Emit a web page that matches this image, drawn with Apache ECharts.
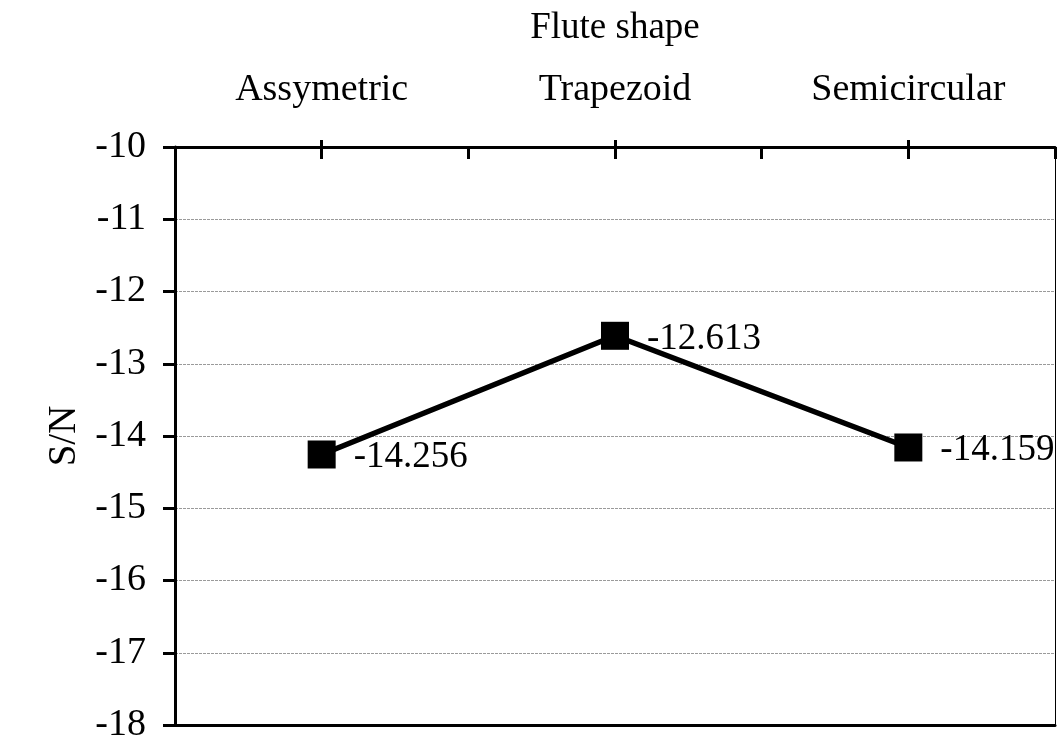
<!DOCTYPE html>
<html>
<head>
<meta charset="utf-8">
<script src="https://cdn.jsdelivr.net/npm/echarts@6/dist/echarts.min.js"></script>
<style>
html,body{margin:0;padding:0;background:#fff;}
#chart{width:1057px;height:746px;}
</style>
</head>
<body>
<div id="chart"></div>
<script>
const categories = ['Assymetric', 'Trapezoid', 'Semicircular'];
const categoryPositions = [1, 3, 5];
const snValues = [-14.256, -12.613, -14.159];
const yTicks = [-18, -17, -16, -15, -14, -13, -12, -11, -10];

const FONT = "'Liberation Serif', 'Times New Roman', serif";
const chart = echarts.init(document.getElementById('chart'));

const points = categoryPositions.map((x, i) => [x, snValues[i]]);

chart.setOption({
  backgroundColor: '#fff',
  animation: false,
  grid: { left: 175, right: 2, top: 147, bottom: 21, containLabel: false },
  xAxis: [
    {
      type: 'value', position: 'top', min: 0, max: 6, interval: 1,
      name: 'Flute shape', nameLocation: 'middle', nameGap: 100,
      nameTextStyle: { fontFamily: FONT, fontSize: 37, color: '#000' },
      axisLine: { show: true, lineStyle: { color: '#000', width: 3 } },
      axisTick: { show: true, inside: false, length: 7, customValues: categoryPositions, lineStyle: { color: '#000', width: 3 } },
      axisLabel: {
        show: true, margin: 38, customValues: categoryPositions,
        fontFamily: FONT, fontSize: 38, color: '#000',
        formatter: v => categories[categoryPositions.indexOf(v)] || ''
      },
      splitLine: { show: false }
    },
    {
      type: 'value', position: 'top', min: 0, max: 6, interval: 1, gridIndex: 0,
      axisLine: { show: false },
      axisTick: { show: true, inside: true, length: 12, lineStyle: { color: '#000', width: 3 } },
      axisLabel: { show: false },
      splitLine: { show: false }
    },
    {
      type: 'value', position: 'bottom', min: 0, max: 6, interval: 1, gridIndex: 0,
      axisLine: { show: true, onZero: false, lineStyle: { color: '#000', width: 3 } },
      axisTick: { show: false },
      axisLabel: { show: false },
      splitLine: { show: false }
    }
  ],
  yAxis: [
    {
      type: 'value', min: -18, max: -10, interval: 1,
      name: 'S/N', nameLocation: 'middle', nameGap: 86,
      nameTextStyle: { fontFamily: FONT, fontSize: 39, color: '#000' },
      axisLine: { show: true, onZero: false, lineStyle: { color: '#000', width: 3 } },
      axisTick: { show: true, inside: false, length: 12, lineStyle: { color: '#000', width: 3 } },
      axisLabel: { margin: 29, fontFamily: FONT, fontSize: 38, color: '#000',
        formatter: v => yTicks.includes(v) ? String(v) : '' },
      splitLine: { show: true, lineStyle: { color: '#9a9a9a', width: 1, type: [3, 1] } }
    },
    {
      type: 'value', position: 'right', min: -18, max: -10, interval: 1,
      axisLine: { show: true, onZero: false, lineStyle: { color: '#000', width: 1 } },
      axisTick: { show: false }, axisLabel: { show: false }, splitLine: { show: false }
    }
  ],
  series: [{
    type: 'line',
    xAxisIndex: 0, yAxisIndex: 0,
    data: points,
    symbol: 'rect', symbolSize: 28,
    lineStyle: { color: '#000', width: 5.5 },
    itemStyle: { color: '#000' },
    label: {
      show: true, position: 'right', distance: 18, offset: [0, 3],
      fontFamily: FONT, fontSize: 37, color: '#000',
      formatter: p => p.value[1].toFixed(3)
    }
  }]
});
</script>
</body>
</html>
